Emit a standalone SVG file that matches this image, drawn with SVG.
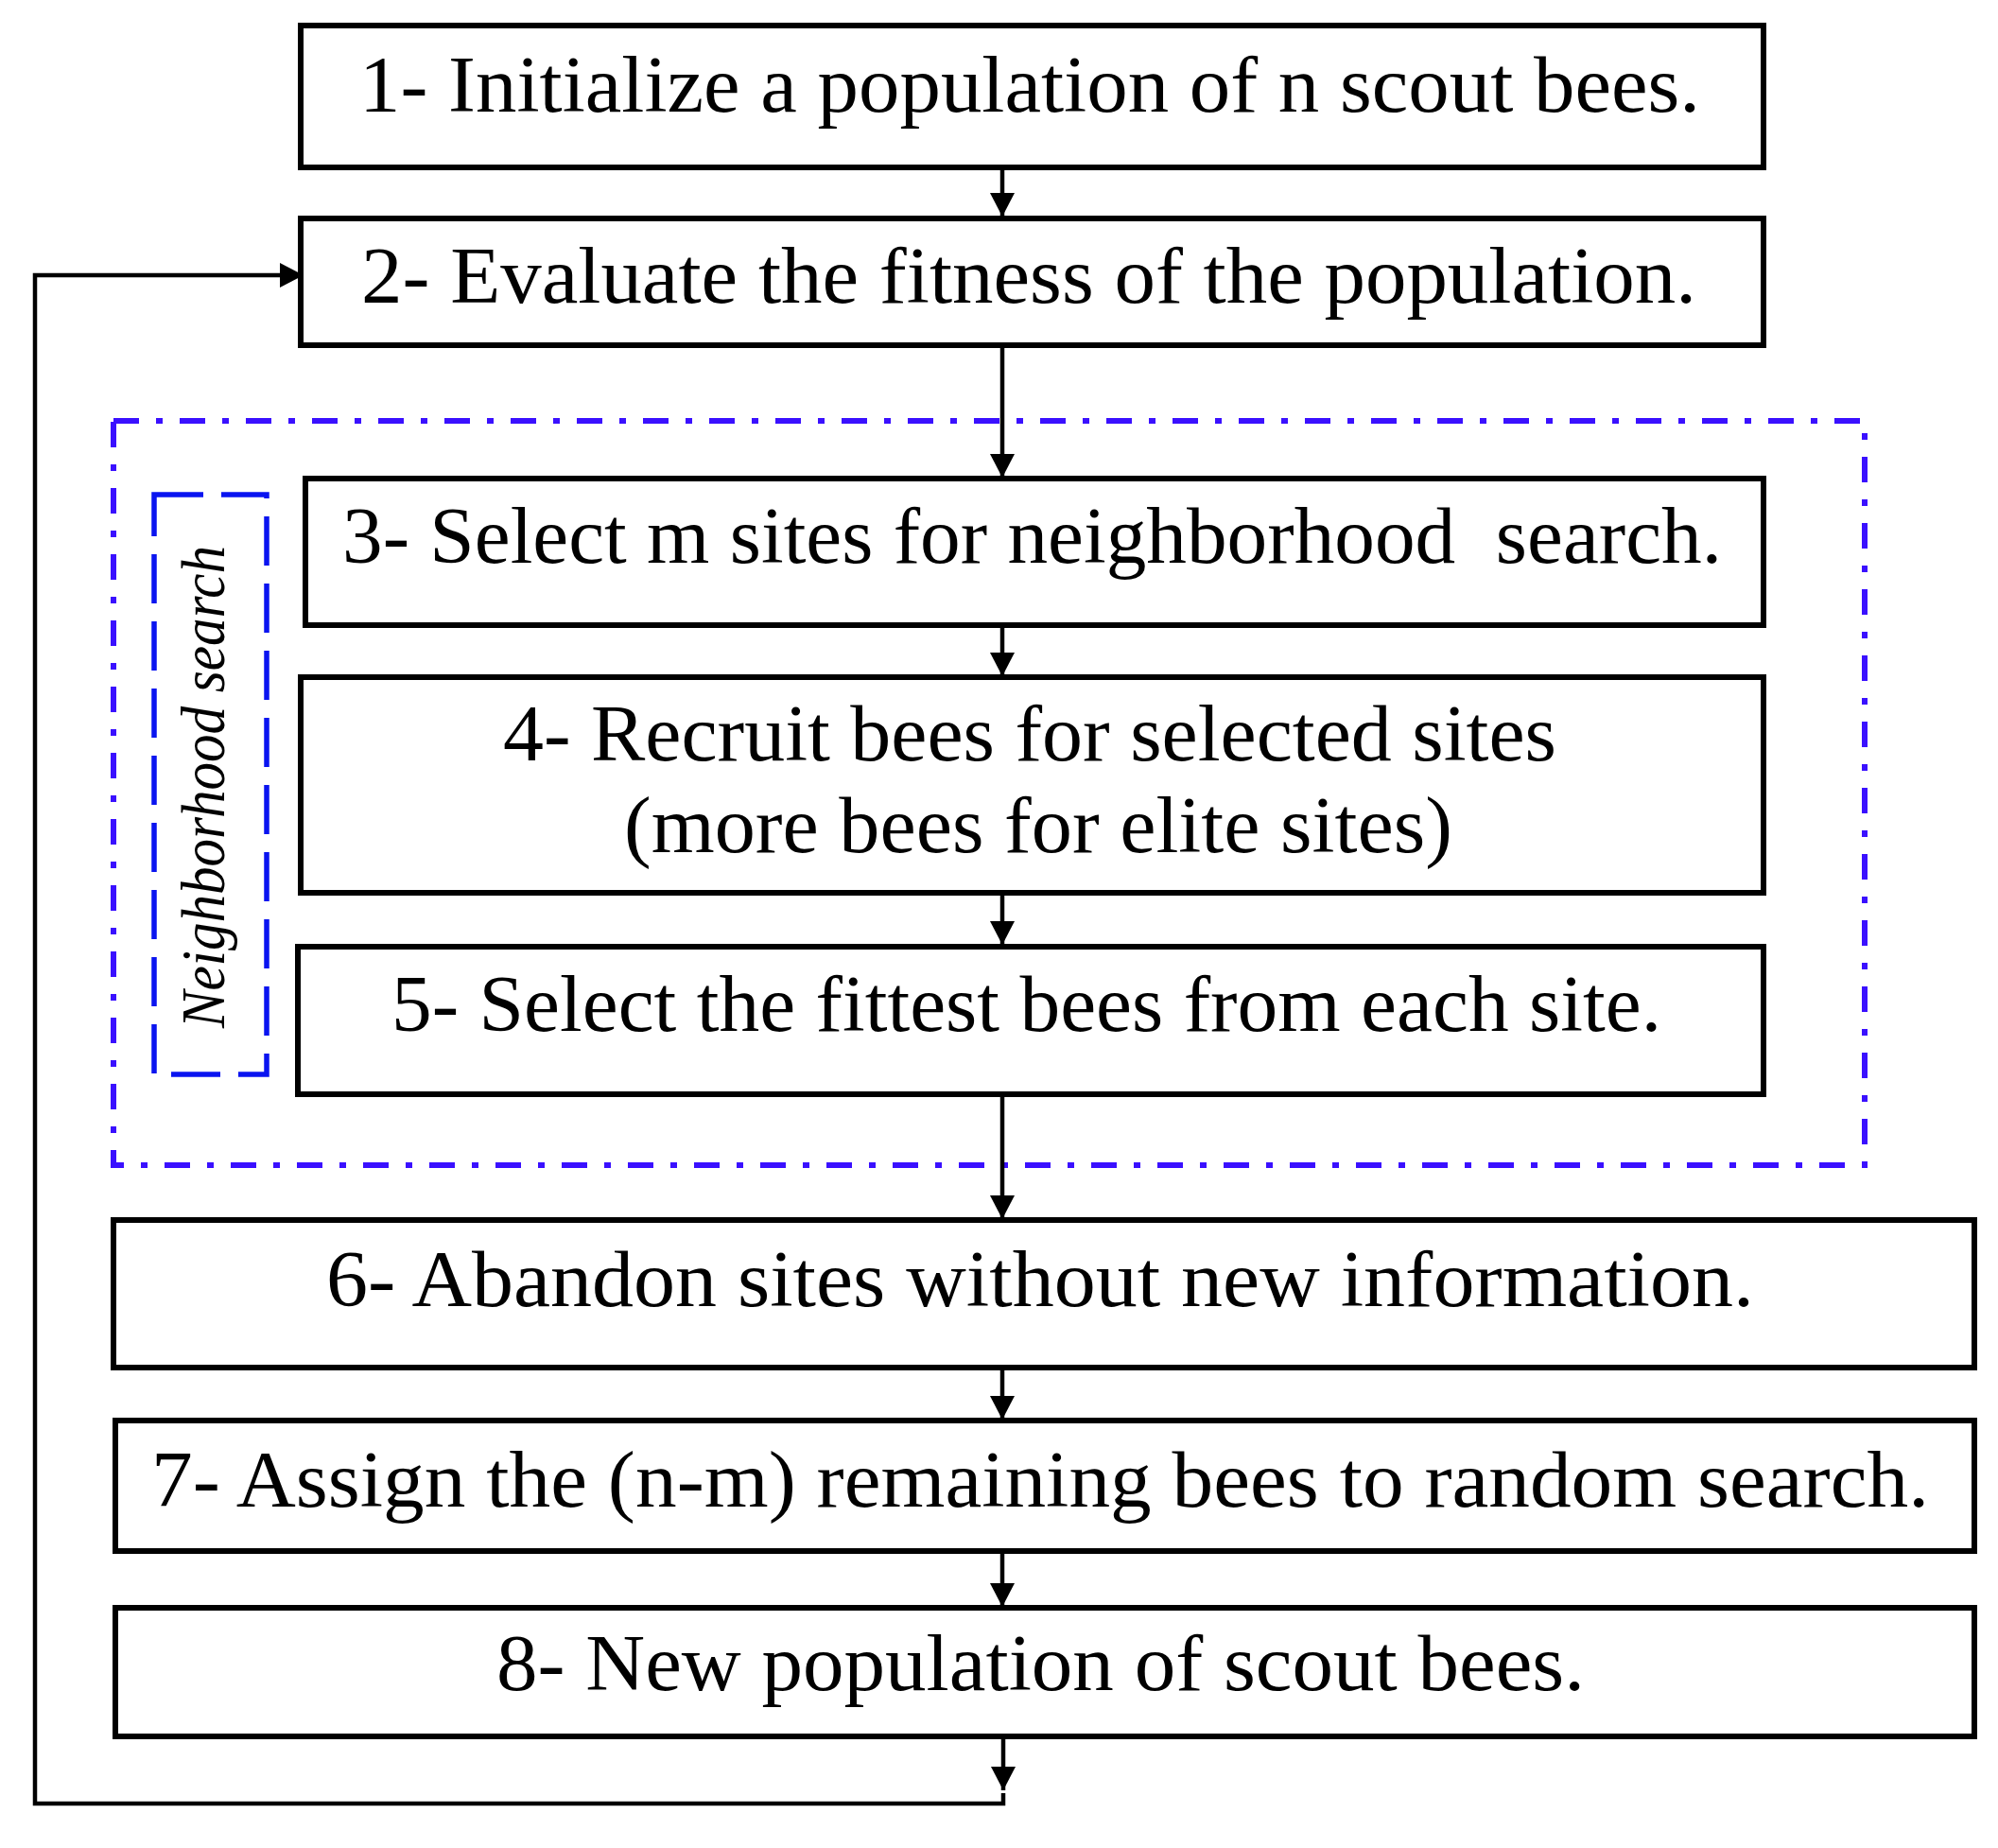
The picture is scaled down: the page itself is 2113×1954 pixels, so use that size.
<svg xmlns="http://www.w3.org/2000/svg" width="2113" height="1954" viewBox="0 0 2113 1954">
<defs>
<style>
.box{fill:#ffffff;stroke:#000000;stroke-width:6}
.lbl{font-family:"Liberation Serif","Times New Roman",serif;font-size:85px;fill:#000000}
.conn{fill:none;stroke:#000000;stroke-width:4.5}
.outer{fill:none;stroke:#3a10ff;stroke-width:6;stroke-dasharray:27 18 7 18}
.inner{fill:none;stroke:#0a14f0;stroke-width:5.5;stroke-dasharray:52 19}
.side{font-family:"Liberation Serif","Times New Roman",serif;font-style:italic;font-size:66px;fill:#000000}
</style>
<marker id="ah" markerUnits="userSpaceOnUse" markerWidth="25" markerHeight="26" refX="25" refY="13" orient="auto">
<path d="M0,0 L25,13 L0,26 Z" fill="#000000"/>
</marker>
</defs>
<rect width="2113" height="1954" fill="#ffffff"/>
<g id="neighborhood-region">
<rect class="outer" x="120" y="445" width="1852" height="787"/>
<rect class="inner" x="163" y="523" width="119" height="613"/>
<text class="side" transform="translate(237,1087) rotate(-90)" textLength="510" lengthAdjust="spacingAndGlyphs">Neighborhood search</text>
</g>
<g id="connectors">
<line class="conn" x1="1060" y1="178" x2="1060" y2="229" marker-end="url(#ah)"/>
<line class="conn" x1="1060" y1="366" x2="1060" y2="505" marker-end="url(#ah)"/>
<line class="conn" x1="1060" y1="662" x2="1060" y2="715" marker-end="url(#ah)"/>
<line class="conn" x1="1060" y1="944" x2="1060" y2="999" marker-end="url(#ah)"/>
<line class="conn" x1="1060" y1="1157" x2="1060" y2="1289" marker-end="url(#ah)"/>
<line class="conn" x1="1060" y1="1446" x2="1060" y2="1501" marker-end="url(#ah)"/>
<line class="conn" x1="1060" y1="1640" x2="1060" y2="1699" marker-end="url(#ah)"/>
<line class="conn" x1="1061" y1="1837" x2="1061" y2="1893" marker-end="url(#ah)"/>
<path class="conn" d="M1061,1896 V1907 H37 V291 H321" marker-end="url(#ah)"/>
</g>
<g id="node1">
<rect class="box" x="318" y="27" width="1547" height="150"/>
<text class="lbl" x="380" y="118" textLength="1418" lengthAdjust="spacingAndGlyphs">1- Initialize a population of n scout bees.</text>
</g>
<g id="node2">
<rect class="box" x="318" y="231" width="1547" height="134"/>
<text class="lbl" x="382" y="320" textLength="1412" lengthAdjust="spacingAndGlyphs">2- Evaluate the fitness of the population.</text>
</g>
<g id="node3">
<rect class="box" x="323" y="506" width="1542" height="155"/>
<text class="lbl" x="362" y="595" textLength="1459" lengthAdjust="spacingAndGlyphs" xml:space="preserve">3- Select m sites for neighborhood  search.</text>
</g>
<g id="node4">
<rect class="box" x="318" y="716" width="1547" height="228"/>
<text class="lbl" x="532" y="804" textLength="1114" lengthAdjust="spacingAndGlyphs">4- Recruit bees for selected sites</text>
<text class="lbl" x="660" y="901" textLength="876" lengthAdjust="spacingAndGlyphs">(more bees for elite sites)</text>
</g>
<g id="node5">
<rect class="box" x="315" y="1001" width="1550" height="156"/>
<text class="lbl" x="414" y="1090" textLength="1343" lengthAdjust="spacingAndGlyphs">5- Select the fittest bees from each site.</text>
</g>
<g id="node6">
<rect class="box" x="120" y="1290" width="1968" height="156"/>
<text class="lbl" x="345" y="1381" textLength="1510" lengthAdjust="spacingAndGlyphs">6- Abandon sites without new information.</text>
</g>
<g id="node7">
<rect class="box" x="122" y="1502" width="1966" height="138"/>
<text class="lbl" x="160" y="1593" textLength="1880" lengthAdjust="spacingAndGlyphs">7- Assign the (n-m) remaining bees to random search.</text>
</g>
<g id="node8">
<rect class="box" x="122" y="1700" width="1966" height="136"/>
<text class="lbl" x="525" y="1787" textLength="1151" lengthAdjust="spacingAndGlyphs">8- New population of scout bees.</text>
</g>
</svg>
